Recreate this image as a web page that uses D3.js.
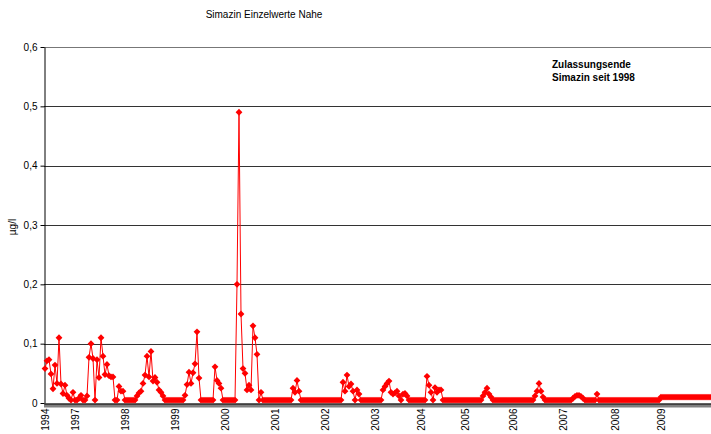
<!DOCTYPE html>
<html>
<head>
<meta charset="utf-8">
<script src="https://cdn.jsdelivr.net/npm/d3@7"></script>
<style>
  body { margin: 0; background: #fff; }
  text { font-family: "Liberation Sans", Arial, sans-serif; }
</style>
</head>
<body>
<svg id="chart" width="711" height="434"></svg>
<script>
// Simazin single measurements (µg/l), Nahe, in sampling order, grouped by year
const yearLabels = ["1994", "1997", "1998", "1999", "2000", "2001", "2002",
                    "2003", "2004", "2005", "2006", "2007", "2008", "2009"];

const s1994 = [0.058, 0.071, 0.073, 0.049, 0.024, 0.064, 0.033, 0.11, 0.032, 0.016,
               0.030, 0.013, 0.008, 0.005, 0.018];
const s1997 = [0.005, 0.005, 0.008, 0.013, 0.005, 0.005, 0.012, 0.077, 0.1, 0.075,
               0.005, 0.073, 0.043, 0.11, 0.079, 0.048, 0.065, 0.046, 0.044, 0.044,
               0.005, 0.005, 0.028, 0.02, 0.02];
const s1998 = [0.005, 0.005, 0.005, 0.005, 0.005, 0.005, 0.012, 0.017, 0.02, 0.033,
               0.047, 0.079, 0.044, 0.087, 0.037, 0.043, 0.035, 0.022, 0.018, 0.012,
               0.005, 0.005, 0.005, 0.005, 0.005];
const s1999 = [0.005, 0.005, 0.005, 0.005, 0.005, 0.013, 0.031, 0.052, 0.033, 0.051,
               0.066, 0.12, 0.042, 0.005, 0.005, 0.005, 0.005, 0.005, 0.005, 0.005,
               0.061, 0.038, 0.033, 0.025, 0.005];
const s2000 = [0.005, 0.005, 0.005, 0.005, 0.005, 0.005, 0.2, 0.49, 0.15, 0.058,
               0.05, 0.022, 0.03, 0.022, 0.13, 0.11, 0.082, 0.005, 0.018, 0.005,
               0.005, 0.005, 0.005, 0.005, 0.005];
const s2001 = [0.005, 0.005, 0.005, 0.005, 0.005, 0.005, 0.005, 0.005, 0.005, 0.025,
               0.018, 0.038, 0.02, 0.005, 0.005, 0.005, 0.005, 0.005, 0.005, 0.005,
               0.005, 0.005, 0.005, 0.005, 0.005];
const s2002 = [0.005, 0.005, 0.005, 0.005, 0.005, 0.005, 0.005, 0.005, 0.005, 0.035,
               0.02, 0.047, 0.028, 0.032, 0.02, 0.005, 0.022, 0.015, 0.005, 0.005,
               0.005, 0.005, 0.005, 0.005, 0.005];
const s2003 = [0.005, 0.005, 0.005, 0.005, 0.022, 0.028, 0.033, 0.037, 0.018, 0.015,
               0.017, 0.02, 0.012, 0.005, 0.015, 0.016, 0.012, 0.005, 0.005, 0.005,
               0.005, 0.005, 0.005];
const s2004 = [0.005, 0.005, 0.005, 0.045, 0.03, 0.018, 0.005, 0.026, 0.018, 0.022,
               0.022, 0.005, 0.005, 0.005, 0.005, 0.005, 0.005, 0.005, 0.005, 0.005,
               0.005, 0.005];
const s2005 = [0.005, 0.005, 0.005, 0.005, 0.005, 0.005, 0.005, 0.005, 0.005, 0.012,
               0.018, 0.025, 0.015, 0.01, 0.005, 0.005, 0.005, 0.005, 0.005, 0.005,
               0.005, 0.005, 0.005, 0.005];
const s2006 = [0.005, 0.005, 0.005, 0.005, 0.005, 0.005, 0.005, 0.005, 0.005, 0.005,
               0.005, 0.012, 0.02, 0.033, 0.02, 0.01, 0.005, 0.005, 0.005, 0.005,
               0.005, 0.005, 0.005, 0.005, 0.005];
const s2007 = [0.005, 0.005, 0.005, 0.005, 0.005, 0.008, 0.011, 0.013, 0.013, 0.011,
               0.008, 0.005, 0.005, 0.005, 0.005, 0.005, 0.005, 0.015, 0.005, 0.005,
               0.005, 0.005, 0.005, 0.005, 0.005, 0.005];
const s2008 = [0.005, 0.005, 0.005, 0.005, 0.005, 0.005, 0.005, 0.005, 0.005, 0.005,
               0.005, 0.005, 0.005, 0.005, 0.005, 0.005, 0.005, 0.005, 0.005, 0.005,
               0.005, 0.005, 0.005];
const s2009 = [0.01, 0.01, 0.01, 0.01, 0.01, 0.01, 0.01, 0.01, 0.01, 0.01,
               0.01, 0.01, 0.01, 0.01, 0.01, 0.01, 0.01, 0.01, 0.01, 0.01,
               0.01, 0.01, 0.01, 0.01, 0.01, 0.01];

const yTicks = [0, 0.1, 0.2, 0.3, 0.4, 0.5, 0.6];

const segments = [s1994, s1997, s1998, s1999, s2000, s2001, s2002,
                  s2003, s2004, s2005, s2006, s2007, s2008, s2009];

// flatten into one category sequence; first sample of each year carries the year label
const samples = [];
segments.forEach((seg, si) => {
  seg.forEach((v, k) => samples.push({ i: samples.length, v, label: k === 0 ? yearLabels[si] : "" }));
});

const svg = d3.select("#chart");
const plotLeft = 44, plotRight = 712, plotTop = 47, plotBottom = 403;

const x = d3.scaleBand().domain(samples.map(d => d.i)).range([plotLeft, plotRight]).padding(0);
const y = d3.scaleLinear().domain([0, 0.6]).range([plotBottom, plotTop]);
const cx = i => x(i) + x.bandwidth() / 2;

// title
svg.append("text")
  .attr("x", 264).attr("y", 18)
  .attr("text-anchor", "middle")
  .attr("font-size", 10)
  .text("Simazin Einzelwerte Nahe");

// horizontal gridlines
svg.append("g").selectAll("line")
  .data(yTicks.filter(t => t > 0))
  .join("line")
  .attr("x1", plotLeft).attr("x2", 711)
  .attr("y1", d => Math.round(y(d)) + 0.5).attr("y2", d => Math.round(y(d)) + 0.5)
  .attr("stroke", d => d === 0.6 ? "#777" : "#333").attr("stroke-width", 1);

// y axis
const yAxis = svg.append("g")
  .attr("transform", `translate(${plotLeft + 0.5},0)`)
  .call(d3.axisLeft(y).tickValues(yTicks).tickSize(4).tickSizeOuter(0)
    .tickFormat(d => d === 0 ? "0" : d3.format(".1f")(d).replace(".", ",")));
yAxis.selectAll("path, line").attr("stroke", "#000");
yAxis.selectAll("text").attr("font-size", 10).attr("fill", "#000")
  .attr("font-family", "Liberation Sans, Arial, sans-serif").attr("x", -7);

svg.append("text")
  .attr("transform", "translate(16,227) rotate(-90)")
  .attr("text-anchor", "middle")
  .attr("font-size", 10)
  .text("µg/l");

// x axis: one tick per sample, year labels rotated
const xAxis = svg.append("g")
  .attr("transform", `translate(0,${plotBottom + 0.5})`)
  .call(d3.axisBottom(x).tickSize(4).tickSizeOuter(0)
    .tickFormat(i => samples[i].label));
xAxis.selectAll("path, line").attr("stroke", "#000");
xAxis.selectAll("text")
  .attr("font-size", 10).attr("fill", "#000")
  .attr("font-family", "Liberation Sans, Arial, sans-serif")
  .attr("transform", "rotate(-90)")
  .attr("text-anchor", "end")
  .attr("dy", "0.35em")
  .attr("x", -5).attr("y", 0);

// data line
svg.append("path")
  .datum(samples)
  .attr("fill", "none")
  .attr("stroke", "#ff0000")
  .attr("stroke-width", 1)
  .attr("d", d3.line().x(d => cx(d.i)).y(d => y(d.v)));

// diamond markers
svg.append("g").selectAll("path")
  .data(samples)
  .join("path")
  .attr("transform", d => `translate(${cx(d.i)},${y(d.v)})`)
  .attr("d", "M0,-3.4L3.4,0L0,3.4L-3.4,0Z")
  .attr("fill", "#ff0000");

// annotation
const note = svg.append("text").attr("font-size", 10).attr("font-weight", "bold");
note.append("tspan").attr("x", 552).attr("y", 68).text("Zulassungsende");
note.append("tspan").attr("x", 552).attr("y", 81).text("Simazin seit 1998");
</script>
</body>
</html>
